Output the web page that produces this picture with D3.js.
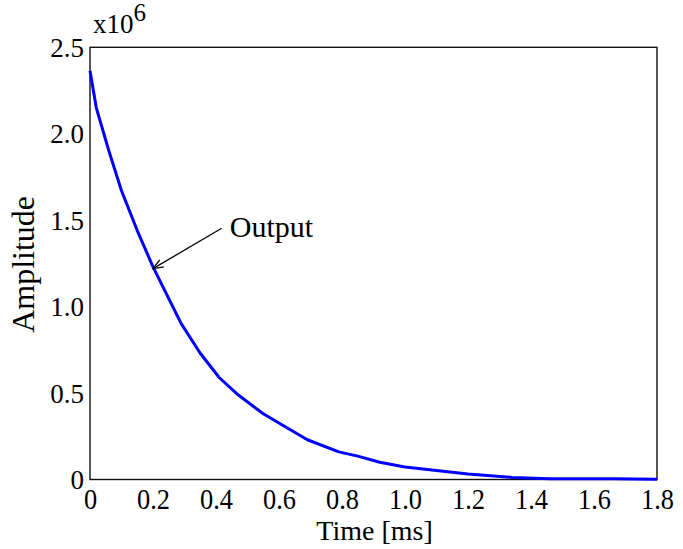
<!DOCTYPE html>
<html>
<head>
<meta charset="utf-8">
<script src="https://cdn.jsdelivr.net/npm/d3@7"></script>
<style>
  body { margin: 0; background: #fff; }
  text { font-family: "Liberation Serif", "Times New Roman", serif; fill: #000; }
</style>
</head>
<body>
<div id="chart"></div>
<script>
// data (amplitude in units of 1e6)
var times = [0, 0.02, 0.06, 0.10, 0.15, 0.20, 0.23, 0.29, 0.35, 0.41, 0.47, 0.55,
             0.69, 0.79, 0.85, 0.92, 1.00, 1.10, 1.20, 1.34, 1.46, 1.66, 1.80]
var amps = [2.365, 2.15, 1.90, 1.67, 1.44, 1.23, 1.12, 0.90, 0.73, 0.59, 0.49, 0.38,
            0.23, 0.16, 0.135, 0.10, 0.072, 0.052, 0.032, 0.012, 0.005, 0.005, 0.001]
var xTicks = [0, 0.2, 0.4, 0.6, 0.8, 1.0, 1.2, 1.4, 1.6, 1.8]
var yTicks = [0, 0.5, 1.0, 1.5, 2.0, 2.5]
var xLabels = ["0", "0.2", "0.4", "0.6", "0.8", "1.0", "1.2", "1.4", "1.6", "1.8"]
var yLabels = ["0", "0.5", "1.0", "1.5", "2.0", "2.5"]
var arrowTip = [0.2, 1.22]
var arrowTail = [0.418, 1.453]
var labelPos = [0.444, 1.402]

var W = 683, H = 549
var margin = {left: 90, top: 47.3, right: 26, bottom: 69.5}
var w = W - margin.left - margin.right
var h = H - margin.top - margin.bottom

var svg = d3.select('#chart').append('svg')
  .attr('width', W)
  .attr('height', H)

var g = svg.append('g')
  .attr('transform', 'translate(' + margin.left + ',' + margin.top + ')')

var x = d3.scaleLinear().domain([0, 1.8]).range([0, w])
var y = d3.scaleLinear().domain([0, 2.5]).range([h, 0])

// x axis (no tick marks, slightly narrow labels)
var xAxis = g.append('g')
  .attr('transform', 'translate(0,' + h + ')')
  .call(d3.axisBottom(x).tickValues(xTicks).tickSize(0).tickFormat((d, i) => xLabels[i]))
xAxis.select('.domain').remove()
xAxis.selectAll('text')
  .attr('y', 0)
  .attr('dy', 0)
  .attr('transform', 'translate(0,29) scale(0.88,1)')
  .style('font-size', '30px')
  .style('font-family', '"Liberation Serif", serif')

var yAxis = g.append('g')
  .call(d3.axisLeft(y).tickValues(yTicks).tickSize(0).tickFormat((d, i) => yLabels[i]))
yAxis.select('.domain').remove()
yAxis.selectAll('text')
  .attr('x', -6)
  .attr('dy', '0.34em')
  .style('font-size', '27px')
  .style('font-family', '"Liberation Serif", serif')

// plot frame
g.append('rect')
  .attr('x', 0).attr('y', 0)
  .attr('width', w).attr('height', h)
  .attr('fill', 'none')
  .attr('stroke', '#111')
  .attr('stroke-width', 1.4)

// curve
var line = d3.line()
  .x(d => x(d[0]))
  .y(d => y(d[1]))

g.append('path')
  .datum(d3.zip(times, amps))
  .attr('d', line)
  .attr('fill', 'none')
  .attr('stroke', '#0000ff')
  .attr('stroke-width', 3)
  .attr('stroke-linejoin', 'round')

// annotation arrow
var tx = x(arrowTip[0]), ty = y(arrowTip[1])
var sx = x(arrowTail[0]), sy = y(arrowTail[1])
g.append('line')
  .attr('x1', sx).attr('y1', sy)
  .attr('x2', tx).attr('y2', ty)
  .attr('stroke', '#000')
  .attr('stroke-width', 1.3)

var ang = Math.atan2(sy - ty, sx - tx)
var headLen = 11, spread = 0.38
var head = d3.path()
head.moveTo(tx + headLen * Math.cos(ang + spread), ty + headLen * Math.sin(ang + spread))
head.lineTo(tx, ty)
head.lineTo(tx + headLen * Math.cos(ang - spread), ty + headLen * Math.sin(ang - spread))
g.append('path')
  .attr('d', head.toString())
  .attr('fill', 'none')
  .attr('stroke', '#000')
  .attr('stroke-width', 1.3)

g.append('text')
  .attr('x', x(labelPos[0]))
  .attr('y', y(labelPos[1]))
  .style('font-size', '30px')
  .text('Output')

// multiplier
var mult = svg.append('text')
  .attr('x', 93)
  .attr('y', 33)
  .style('font-size', '27px')
mult.append('tspan').text('x10')
mult.append('tspan')
  .attr('dy', -12)
  .style('font-size', '25px')
  .text('6')

// axis titles
svg.append('text')
  .attr('x', margin.left + w / 2 + 1)
  .attr('y', 540)
  .attr('text-anchor', 'middle')
  .style('font-size', '28px')
  .text('Time [ms]')

svg.append('text')
  .attr('transform', 'translate(34,' + (margin.top + h / 2 + 1) + ') rotate(-90)')
  .attr('text-anchor', 'middle')
  .style('font-size', '32px')
  .text('Amplitude')
</script>
</body>
</html>
